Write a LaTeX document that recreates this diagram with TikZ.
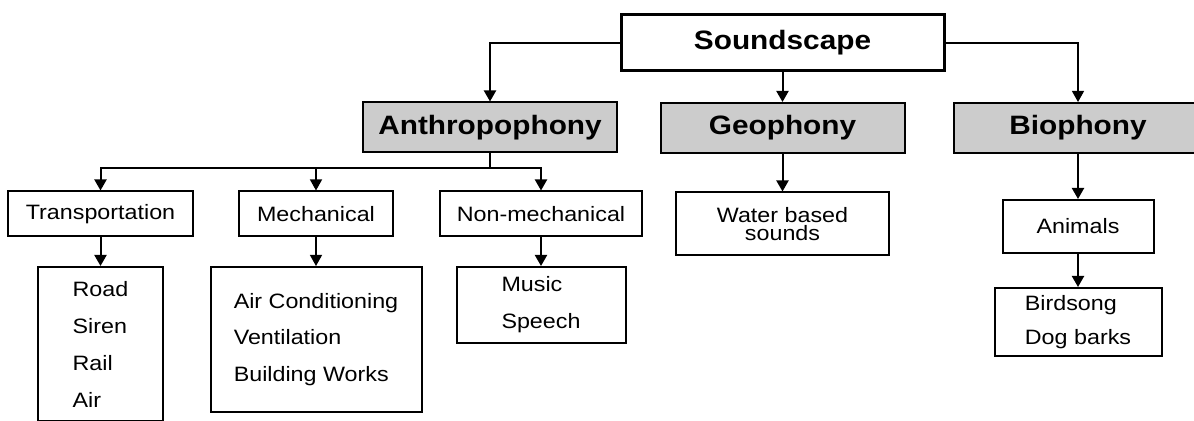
\documentclass[tikz,border=0pt]{standalone}
\usepackage{fontspec}
\setmainfont{Liberation Sans}[FakeStretch=1.12]
\usetikzlibrary{arrows.meta}

\begin{document}
\begin{tikzpicture}[
    x=0.5pt, y=-0.5pt,
    >={Triangle[width=6pt,length=5.5pt]},
    rootbox/.style={
      rectangle, draw, line width=1.5pt, fill=white,
      minimum width=161.5pt, minimum height=28pt, inner sep=0pt,
      font=\fontsize{13.3}{16}\selectfont\bfseries
    },
    catbox/.style={
      rectangle, draw, line width=1pt, fill=gray!40,
      minimum height=25pt, inner sep=0pt,
      font=\fontsize{13.3}{16}\selectfont\bfseries
    },
    subbox/.style={
      rectangle, draw, line width=1pt,
      minimum height=22.5pt, inner sep=0pt,
      font=\fontsize{10.4}{12}\selectfont
    },
    listbox/.style={
      rectangle, draw, line width=1pt, align=left, inner sep=0pt,
      font=\fontsize{10.4}{#1}\selectfont
    },
    conn/.style={->, line width=1pt},
    thinconn/.style={->, line width=0.6pt}
  ]

  \useasboundingbox (0,0) rectangle (1194,421);
  \clip (0,0) rectangle (1194,421);

  % Level 1: root
  \node[rootbox] (sound) at (782.5,43) {Soundscape};

  % Level 2: the three sources
  \node[catbox, minimum width=127pt] (anthro) at (490,127.5) {Anthropophony};
  \node[catbox, minimum width=122pt] (geo)    at (782.5,128) {Geophony};
  \node[catbox, minimum width=124pt] (bio)    at (1078,128)  {Biophony};

  % Level 3: sub-groups
  \node[subbox, minimum width=92.5pt] (trans)   at (100.5,214) {Transportation};
  \node[subbox, minimum width=77pt]   (mech)    at (316,214)   {Mechanical};
  \node[subbox, minimum width=101pt]  (nonmech) at (541,214)   {Non-mechanical};
  \node[subbox, minimum width=106.5pt, minimum height=31.5pt, align=center,
        font=\fontsize{10.4}{9}\selectfont] (water) at (782.5,224)
    {Water based\\sounds};
  \node[subbox, minimum width=75.5pt, minimum height=26.5pt] (animals) at (1078,226.5) {Animals};

  % Level 4: examples
  \node[listbox=18.5, minimum width=62.5pt, minimum height=77pt] (road) at (100.5,344)
    {Road\\Siren\\Rail\\Air};
  \node[listbox=18.25, minimum width=105.5pt, minimum height=72.5pt] (mechlist) at (316,339.5)
    {Air Conditioning\\Ventilation\\Building Works};
  \node[listbox=18.5, minimum width=84.5pt, minimum height=38pt] (sociallist) at (541,305)
    {Music\\Speech};
  \node[listbox=17, minimum width=83.5pt, minimum height=34pt] (animallist) at (1078,322)
    {Birdsong\\Dog barks};

  % Arrows
  \draw[conn]     (sound.west)  -| (anthro.north);
  \draw[conn]     (sound.south) -- (geo.north);
  \draw[thinconn] (sound.east)  -| (bio.north);

  % split under Anthropophony
  \coordinate (split) at (490,168);
  \draw[line width=1pt] (anthro.south) -- (split);
  \draw[conn]     (split) -| (trans.north);
  \draw[conn]     (split) -| (nonmech.north);
  \draw[thinconn] (split) -| (mech.north);

  \draw[conn]     (trans)   -- (road);
  \draw[thinconn] (mech)    -- (mechlist);
  \draw[conn]     (nonmech) -- (sociallist);
  \draw[conn]     (geo)     -- (water);
  \draw[conn]     (bio)     -- (animals);
  \draw[conn]     (animals) -- (animallist);
\end{tikzpicture}
\end{document}
